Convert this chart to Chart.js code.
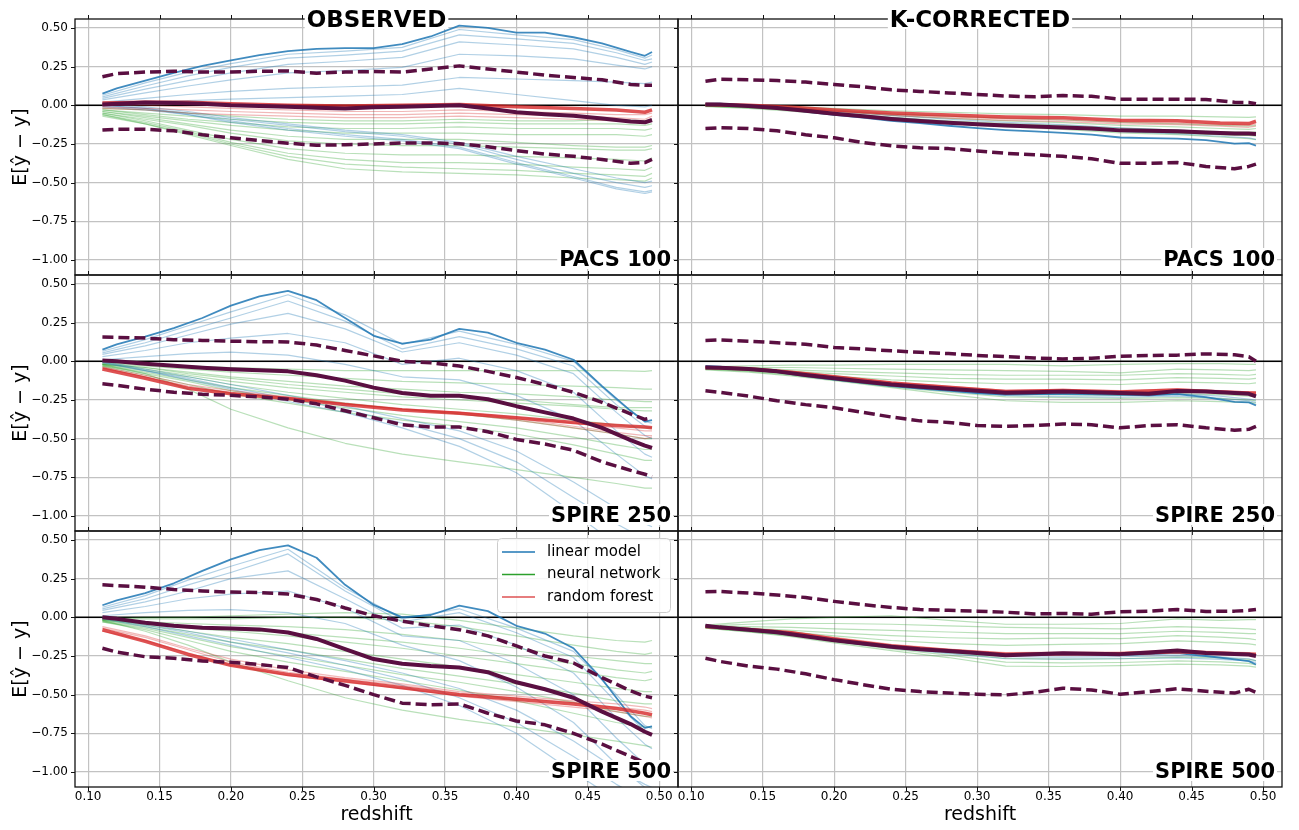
<!DOCTYPE html>
<html>
<head>
<meta charset="utf-8">
<script src="https://cdn.jsdelivr.net/npm/chart.js@4.4.1/dist/chart.umd.min.js"></script>
<style>
  html, body { margin: 0; padding: 0; background: #fff; }
  #fig { position: relative; width: 1299px; height: 830px; overflow: hidden; background: #fff; }
  #fig canvas { position: absolute; }
</style>
</head>
<body>
<div id="fig"></div>
<script>
// redshift grids: fine grid for the bold curves, coarse grid for the thin ones
const zFine = [0.11, 0.12, 0.14, 0.16, 0.18, 0.20, 0.22, 0.24, 0.26, 0.28, 0.30, 0.32, 0.34, 0.36, 0.38, 0.40, 0.42, 0.44, 0.46, 0.48, 0.49, 0.495];
const zCoarse = [0.11, 0.14, 0.17, 0.20, 0.24, 0.28, 0.32, 0.36, 0.40, 0.44, 0.47, 0.49, 0.495];

const xTicks = [0.10, 0.15, 0.20, 0.25, 0.30, 0.35, 0.40, 0.45, 0.50];
const yTicks = [0.50, 0.25, 0.00, -0.25, -0.50, -0.75, -1.00];

const colTitles = ['OBSERVED', 'K-CORRECTED'];
const rowLabels = ['PACS 100', 'SPIRE 250', 'SPIRE 500'];
const legendNames = ['linear model', 'neural network', 'random forest'];

// ---------- PACS 100, observed ----------
const obsPacsLin = [0.075, 0.11, 0.16, 0.21, 0.255, 0.29, 0.325, 0.35, 0.365, 0.37, 0.37, 0.395, 0.445, 0.515, 0.50, 0.47, 0.47, 0.44, 0.40, 0.345, 0.32, 0.345];
const obsPacsMean = [0.005, 0.01, 0.018, 0.015, 0.01, 0.0, -0.005, -0.01, -0.015, -0.02, -0.012, -0.01, -0.005, 0.0, -0.02, -0.045, -0.058, -0.068, -0.085, -0.105, -0.11, -0.095];
const obsPacsUp = [0.185, 0.205, 0.215, 0.22, 0.215, 0.215, 0.22, 0.222, 0.208, 0.215, 0.218, 0.215, 0.235, 0.255, 0.235, 0.215, 0.195, 0.18, 0.165, 0.135, 0.13, 0.13];
const obsPacsLo = [-0.16, -0.155, -0.155, -0.165, -0.19, -0.21, -0.228, -0.245, -0.258, -0.255, -0.25, -0.243, -0.243, -0.248, -0.268, -0.293, -0.315, -0.33, -0.35, -0.375, -0.37, -0.35];
const obsPacsRf = [0.015, 0.02, 0.02, 0.01, 0.0, -0.005, 0.0, 0.005, -0.01, -0.02, -0.03, -0.045, -0.03];
const obsPacsLinThin = [
  [0.065, 0.145, 0.215, 0.27, 0.33, 0.35, 0.375, 0.49, 0.455, 0.425, 0.36, 0.305, 0.325],
  [0.055, 0.125, 0.19, 0.245, 0.305, 0.325, 0.35, 0.455, 0.43, 0.40, 0.34, 0.29, 0.30],
  [0.045, 0.105, 0.16, 0.21, 0.265, 0.285, 0.31, 0.41, 0.39, 0.365, 0.31, 0.265, 0.28],
  [0.035, 0.08, 0.125, 0.165, 0.21, 0.225, 0.245, 0.33, 0.32, 0.30, 0.26, 0.235, 0.25],
  [0.02, 0.045, 0.07, 0.09, 0.11, 0.12, 0.13, 0.18, 0.17, 0.16, 0.15, 0.14, 0.15],
  [0.01, 0.02, 0.03, 0.04, 0.05, 0.06, 0.07, 0.11, 0.07, 0.03, 0.0, -0.01, 0.0],
  [0.01, -0.01, -0.04, -0.08, -0.12, -0.16, -0.19, -0.24, -0.33, -0.41, -0.47, -0.50, -0.49],
  [0.0, -0.02, -0.05, -0.09, -0.13, -0.17, -0.20, -0.25, -0.35, -0.44, -0.50, -0.53, -0.52],
  [0.0, -0.02, -0.06, -0.10, -0.15, -0.19, -0.22, -0.27, -0.37, -0.46, -0.53, -0.56, -0.55],
  [-0.01, -0.03, -0.06, -0.11, -0.16, -0.20, -0.23, -0.28, -0.38, -0.47, -0.54, -0.57, -0.56]
];
const obsPacsNnThin = [
  [-0.02, -0.03, -0.05, -0.07, -0.09, -0.10, -0.10, -0.09, -0.10, -0.10, -0.09, -0.10, -0.09],
  [-0.03, -0.05, -0.07, -0.09, -0.11, -0.12, -0.12, -0.11, -0.12, -0.12, -0.12, -0.13, -0.12],
  [-0.03, -0.06, -0.09, -0.11, -0.14, -0.15, -0.15, -0.14, -0.15, -0.15, -0.15, -0.16, -0.15],
  [-0.04, -0.07, -0.10, -0.13, -0.16, -0.18, -0.18, -0.18, -0.19, -0.19, -0.19, -0.20, -0.19],
  [-0.04, -0.08, -0.12, -0.16, -0.20, -0.22, -0.22, -0.22, -0.24, -0.26, -0.27, -0.27, -0.26],
  [-0.05, -0.09, -0.13, -0.18, -0.23, -0.25, -0.26, -0.26, -0.27, -0.28, -0.29, -0.29, -0.28],
  [-0.05, -0.10, -0.16, -0.22, -0.28, -0.31, -0.32, -0.32, -0.33, -0.34, -0.35, -0.36, -0.34],
  [-0.06, -0.11, -0.17, -0.24, -0.31, -0.35, -0.37, -0.37, -0.38, -0.40, -0.41, -0.42, -0.40],
  [-0.06, -0.12, -0.18, -0.25, -0.33, -0.38, -0.40, -0.41, -0.42, -0.44, -0.45, -0.46, -0.44],
  [-0.07, -0.12, -0.19, -0.26, -0.35, -0.41, -0.43, -0.44, -0.45, -0.47, -0.48, -0.49, -0.47]
];
const obsPacsRfThin = [
  [0.0, 0.0, -0.01, -0.02, -0.03, -0.04, -0.04, -0.03, -0.04, -0.05, -0.06, -0.06, -0.05],
  [-0.01, -0.02, -0.03, -0.04, -0.05, -0.06, -0.06, -0.05, -0.06, -0.07, -0.08, -0.09, -0.07],
  [-0.02, -0.03, -0.05, -0.06, -0.07, -0.08, -0.08, -0.07, -0.08, -0.09, -0.10, -0.11, -0.09]
];

// ---------- PACS 100, k-corrected ----------
const kcPacsLin = [0.01, 0.01, 0.0, -0.015, -0.04, -0.062, -0.08, -0.1, -0.115, -0.132, -0.148, -0.16, -0.168, -0.178, -0.19, -0.208, -0.212, -0.215, -0.225, -0.248, -0.245, -0.26];
const kcPacsMean = [0.005, 0.005, -0.005, -0.017, -0.035, -0.054, -0.07, -0.088, -0.102, -0.113, -0.123, -0.13, -0.137, -0.143, -0.15, -0.162, -0.165, -0.168, -0.175, -0.183, -0.183, -0.185];
const kcPacsUp = [0.155, 0.168, 0.165, 0.16, 0.15, 0.135, 0.12, 0.10, 0.09, 0.08, 0.07, 0.06, 0.055, 0.063, 0.058, 0.04, 0.04, 0.04, 0.038, 0.02, 0.018, 0.01];
const kcPacsLo = [-0.15, -0.145, -0.15, -0.165, -0.19, -0.21, -0.24, -0.262, -0.275, -0.28, -0.295, -0.31, -0.32, -0.33, -0.345, -0.375, -0.375, -0.37, -0.395, -0.41, -0.395, -0.38];
const kcPacsRf = [0.005, 0.0, -0.012, -0.03, -0.05, -0.062, -0.075, -0.08, -0.097, -0.1, -0.115, -0.118, -0.103];
const kcPacsLinThin = [
  [0.008, 0.0, -0.015, -0.035, -0.065, -0.09, -0.11, -0.125, -0.145, -0.16, -0.175, -0.185, -0.195],
  [0.005, -0.005, -0.02, -0.045, -0.078, -0.105, -0.13, -0.148, -0.17, -0.185, -0.2, -0.21, -0.22]
];
const kcPacsNnThin = [
  [0.005, 0.0, -0.008, -0.02, -0.035, -0.045, -0.055, -0.06, -0.07, -0.07, -0.075, -0.078, -0.075],
  [0.0, -0.005, -0.015, -0.03, -0.055, -0.07, -0.085, -0.095, -0.11, -0.12, -0.13, -0.135, -0.13],
  [0.0, -0.008, -0.02, -0.04, -0.065, -0.085, -0.1, -0.112, -0.13, -0.14, -0.15, -0.155, -0.15],
  [-0.003, -0.012, -0.027, -0.048, -0.078, -0.1, -0.118, -0.13, -0.148, -0.16, -0.17, -0.175, -0.172],
  [-0.005, -0.015, -0.03, -0.055, -0.085, -0.11, -0.13, -0.145, -0.165, -0.178, -0.19, -0.195, -0.2],
  [-0.008, -0.02, -0.037, -0.06, -0.09, -0.118, -0.14, -0.155, -0.178, -0.19, -0.205, -0.215, -0.222],
  [-0.005, -0.015, -0.032, -0.055, -0.085, -0.11, -0.132, -0.148, -0.168, -0.18, -0.19, -0.195, -0.195]
];
const kcPacsRfThin = [
  [0.0, -0.005, -0.018, -0.035, -0.058, -0.075, -0.088, -0.095, -0.11, -0.115, -0.125, -0.13, -0.12],
  [0.0, -0.008, -0.022, -0.04, -0.065, -0.083, -0.097, -0.105, -0.12, -0.125, -0.135, -0.142, -0.135]
];

// ---------- SPIRE 250, observed ----------
const obsS250Lin = [0.075, 0.11, 0.16, 0.215, 0.28, 0.36, 0.42, 0.455, 0.395, 0.28, 0.165, 0.115, 0.14, 0.21, 0.185, 0.12, 0.075, 0.01, -0.16, -0.32, -0.39, -0.38];
const obsS250Mean = [0.005, 0.0, -0.015, -0.028, -0.042, -0.052, -0.058, -0.065, -0.09, -0.125, -0.17, -0.205, -0.222, -0.222, -0.245, -0.29, -0.33, -0.37, -0.43, -0.51, -0.545, -0.56];
const obsS250Up = [0.157, 0.155, 0.15, 0.14, 0.135, 0.13, 0.127, 0.125, 0.105, 0.07, 0.035, 0.0, -0.01, -0.03, -0.065, -0.105, -0.15, -0.2, -0.265, -0.34, -0.375, -0.365];
const obsS250Lo = [-0.145, -0.155, -0.18, -0.2, -0.213, -0.22, -0.23, -0.245, -0.275, -0.32, -0.365, -0.41, -0.425, -0.425, -0.455, -0.505, -0.535, -0.575, -0.65, -0.705, -0.73, -0.745];
const obsS250Rf = [-0.05, -0.11, -0.175, -0.21, -0.24, -0.28, -0.315, -0.335, -0.365, -0.395, -0.415, -0.425, -0.43];
const obsS250LinThin = [
  [0.065, 0.14, 0.23, 0.32, 0.43, 0.30, 0.11, 0.195, 0.11, 0.0, -0.25, -0.39, -0.40],
  [0.055, 0.12, 0.20, 0.28, 0.39, 0.26, 0.08, 0.16, 0.08, -0.03, -0.28, -0.42, -0.43],
  [0.045, 0.10, 0.17, 0.24, 0.31, 0.21, 0.06, 0.12, 0.04, -0.08, -0.33, -0.48, -0.50],
  [0.03, 0.07, 0.12, 0.15, 0.18, 0.12, -0.02, 0.02, -0.06, -0.2, -0.45, -0.6, -0.62],
  [0.01, 0.03, 0.05, 0.06, 0.04, -0.02, -0.1, -0.12, -0.22, -0.38, -0.6, -0.74, -0.76],
  [0.0, -0.05, -0.10, -0.15, -0.22, -0.29, -0.37, -0.45, -0.58, -0.78, -0.95, -1.05, -1.07],
  [-0.005, -0.06, -0.11, -0.17, -0.24, -0.31, -0.40, -0.50, -0.65, -0.88, -1.05, -1.15, -1.17],
  [-0.01, -0.06, -0.12, -0.18, -0.26, -0.33, -0.43, -0.55, -0.72, -0.98, -1.18, -1.28, -1.3]
];
const obsS250NnThin = [
  [-0.01, -0.02, -0.03, -0.04, -0.05, -0.06, -0.06, -0.06, -0.06, -0.06, -0.06, -0.065, -0.06],
  [-0.015, -0.03, -0.05, -0.07, -0.09, -0.11, -0.13, -0.14, -0.15, -0.16, -0.17, -0.18, -0.18],
  [-0.02, -0.04, -0.07, -0.10, -0.13, -0.16, -0.18, -0.20, -0.21, -0.23, -0.25, -0.26, -0.26],
  [-0.02, -0.05, -0.09, -0.13, -0.17, -0.20, -0.23, -0.25, -0.27, -0.29, -0.31, -0.32, -0.32],
  [-0.025, -0.06, -0.10, -0.15, -0.20, -0.24, -0.28, -0.31, -0.34, -0.38, -0.41, -0.43, -0.43],
  [-0.03, -0.07, -0.12, -0.17, -0.22, -0.27, -0.31, -0.34, -0.38, -0.43, -0.47, -0.50, -0.50],
  [-0.03, -0.08, -0.13, -0.19, -0.25, -0.30, -0.35, -0.39, -0.43, -0.49, -0.54, -0.57, -0.57],
  [-0.035, -0.09, -0.15, -0.21, -0.27, -0.33, -0.38, -0.42, -0.47, -0.54, -0.60, -0.64, -0.64],
  [-0.02, -0.08, -0.18, -0.31, -0.43, -0.53, -0.60, -0.65, -0.70, -0.75, -0.79, -0.82, -0.82],
  [-0.02, -0.04, -0.08, -0.11, -0.15, -0.18, -0.21, -0.23, -0.25, -0.28, -0.30, -0.30, -0.30]
];
const obsS250RfThin = [
  [-0.04, -0.10, -0.16, -0.20, -0.235, -0.275, -0.31, -0.33, -0.36, -0.40, -0.43, -0.45, -0.45],
  [-0.035, -0.09, -0.15, -0.19, -0.23, -0.27, -0.305, -0.33, -0.37, -0.42, -0.46, -0.48, -0.48],
  [-0.045, -0.10, -0.165, -0.205, -0.24, -0.275, -0.31, -0.34, -0.38, -0.43, -0.47, -0.50, -0.49]
];

// ---------- SPIRE 250, k-corrected ----------
const kcS250Lin = [-0.03, -0.035, -0.05, -0.07, -0.095, -0.118, -0.14, -0.16, -0.177, -0.19, -0.205, -0.215, -0.212, -0.21, -0.212, -0.215, -0.22, -0.212, -0.232, -0.262, -0.265, -0.285];
const kcS250Mean = [-0.04, -0.042, -0.05, -0.065, -0.088, -0.11, -0.13, -0.15, -0.165, -0.178, -0.19, -0.203, -0.2, -0.195, -0.2, -0.205, -0.21, -0.192, -0.195, -0.205, -0.21, -0.226];
const kcS250Up = [0.135, 0.138, 0.13, 0.12, 0.11, 0.09, 0.08, 0.068, 0.058, 0.05, 0.038, 0.03, 0.022, 0.015, 0.02, 0.033, 0.037, 0.04, 0.048, 0.042, 0.03, 0.0];
const kcS250Lo = [-0.19, -0.2, -0.225, -0.255, -0.28, -0.30, -0.33, -0.36, -0.385, -0.395, -0.415, -0.42, -0.415, -0.405, -0.41, -0.43, -0.415, -0.41, -0.43, -0.445, -0.44, -0.42];
const kcS250Rf = [-0.04, -0.048, -0.07, -0.1, -0.14, -0.168, -0.195, -0.188, -0.198, -0.185, -0.198, -0.205, -0.205];
const kcS250LinThin = [
  [-0.035, -0.05, -0.075, -0.105, -0.15, -0.185, -0.21, -0.215, -0.22, -0.21, -0.225, -0.245, -0.25],
  [-0.04, -0.055, -0.08, -0.11, -0.158, -0.195, -0.222, -0.228, -0.232, -0.225, -0.24, -0.255, -0.265]
];
const kcS250NnThin = [
  [-0.035, -0.03, -0.025, -0.025, -0.02, -0.02, -0.02, -0.03, -0.02, -0.015, -0.015, -0.02, -0.02],
  [-0.04, -0.04, -0.04, -0.045, -0.05, -0.055, -0.06, -0.065, -0.075, -0.05, -0.055, -0.06, -0.055],
  [-0.04, -0.045, -0.055, -0.065, -0.075, -0.085, -0.09, -0.09, -0.09, -0.08, -0.085, -0.09, -0.085],
  [-0.04, -0.05, -0.065, -0.08, -0.095, -0.11, -0.115, -0.115, -0.12, -0.105, -0.11, -0.115, -0.11],
  [-0.045, -0.055, -0.075, -0.095, -0.12, -0.135, -0.145, -0.145, -0.15, -0.135, -0.14, -0.145, -0.14],
  [-0.05, -0.06, -0.085, -0.115, -0.155, -0.19, -0.215, -0.215, -0.22, -0.21, -0.215, -0.225, -0.23],
  [-0.05, -0.065, -0.09, -0.12, -0.165, -0.2, -0.23, -0.235, -0.24, -0.235, -0.24, -0.25, -0.255],
  [-0.055, -0.07, -0.095, -0.125, -0.17, -0.215, -0.255, -0.265, -0.265, -0.255, -0.26, -0.265, -0.27]
];
const kcS250RfThin = [
  [-0.035, -0.045, -0.065, -0.095, -0.135, -0.162, -0.188, -0.182, -0.19, -0.178, -0.19, -0.197, -0.2],
  [-0.04, -0.05, -0.072, -0.103, -0.143, -0.172, -0.2, -0.195, -0.203, -0.19, -0.203, -0.21, -0.212]
];

// ---------- SPIRE 500, observed ----------
const obsS500Lin = [0.078, 0.11, 0.157, 0.22, 0.30, 0.375, 0.435, 0.465, 0.385, 0.21, 0.08, 0.0, 0.015, 0.075, 0.04, -0.055, -0.105, -0.20, -0.40, -0.64, -0.715, -0.705];
const obsS500Mean = [0.0, -0.01, -0.035, -0.055, -0.067, -0.072, -0.078, -0.098, -0.14, -0.205, -0.27, -0.30, -0.315, -0.325, -0.355, -0.42, -0.465, -0.52, -0.61, -0.69, -0.74, -0.76];
const obsS500Up = [0.21, 0.205, 0.195, 0.18, 0.17, 0.163, 0.16, 0.15, 0.115, 0.06, 0.01, -0.025, -0.055, -0.08, -0.12, -0.185, -0.25, -0.295, -0.39, -0.475, -0.51, -0.52];
const obsS500Lo = [-0.2, -0.225, -0.255, -0.265, -0.282, -0.29, -0.305, -0.325, -0.385, -0.44, -0.50, -0.555, -0.565, -0.56, -0.62, -0.67, -0.695, -0.75, -0.82, -0.9, -0.94, -0.955];
const obsS500Rf = [-0.08, -0.155, -0.24, -0.31, -0.37, -0.41, -0.455, -0.50, -0.53, -0.56, -0.59, -0.62, -0.63];
const obsS500LinThin = [
  [0.065, 0.14, 0.24, 0.33, 0.44, 0.19, -0.01, 0.055, -0.07, -0.22, -0.50, -0.70, -0.72],
  [0.055, 0.12, 0.21, 0.29, 0.41, 0.17, -0.03, 0.03, -0.10, -0.26, -0.55, -0.74, -0.76],
  [0.045, 0.10, 0.17, 0.25, 0.30, 0.12, -0.07, -0.05, -0.18, -0.36, -0.65, -0.82, -0.85],
  [0.03, 0.07, 0.12, 0.15, 0.17, 0.06, -0.12, -0.15, -0.30, -0.50, -0.78, -0.95, -0.98],
  [0.01, 0.03, 0.045, 0.05, 0.03, -0.04, -0.18, -0.28, -0.45, -0.68, -0.95, -1.10, -1.12],
  [0.0, -0.04, -0.09, -0.14, -0.21, -0.28, -0.36, -0.46, -0.60, -0.80, -0.98, -1.08, -1.10],
  [-0.005, -0.05, -0.10, -0.16, -0.23, -0.31, -0.40, -0.52, -0.68, -0.90, -1.08, -1.18, -1.2],
  [-0.01, -0.06, -0.12, -0.18, -0.26, -0.34, -0.44, -0.57, -0.75, -1.0, -1.18, -1.28, -1.3]
];
const obsS500NnThin = [
  [-0.01, 0.0, 0.0, 0.01, 0.02, 0.03, 0.02, -0.02, -0.07, -0.12, -0.15, -0.16, -0.15],
  [-0.01, -0.01, -0.01, -0.01, 0.0, 0.0, -0.02, -0.06, -0.12, -0.18, -0.22, -0.24, -0.23],
  [-0.015, -0.03, -0.04, -0.05, -0.06, -0.08, -0.11, -0.15, -0.20, -0.25, -0.28, -0.30, -0.30],
  [-0.02, -0.04, -0.07, -0.09, -0.12, -0.16, -0.20, -0.25, -0.30, -0.35, -0.39, -0.41, -0.40],
  [-0.02, -0.05, -0.09, -0.13, -0.17, -0.22, -0.27, -0.32, -0.37, -0.42, -0.46, -0.48, -0.48],
  [-0.025, -0.06, -0.11, -0.16, -0.21, -0.27, -0.33, -0.38, -0.43, -0.49, -0.54, -0.56, -0.56],
  [-0.03, -0.07, -0.13, -0.19, -0.25, -0.31, -0.37, -0.42, -0.48, -0.55, -0.61, -0.64, -0.64],
  [-0.03, -0.08, -0.15, -0.22, -0.29, -0.35, -0.41, -0.47, -0.54, -0.62, -0.68, -0.71, -0.71],
  [-0.02, -0.09, -0.18, -0.29, -0.41, -0.52, -0.60, -0.66, -0.71, -0.76, -0.80, -0.83, -0.84],
  [-0.015, -0.04, -0.06, -0.08, -0.10, -0.13, -0.16, -0.20, -0.25, -0.30, -0.34, -0.36, -0.35]
];
const obsS500RfThin = [
  [-0.06, -0.12, -0.20, -0.27, -0.34, -0.39, -0.43, -0.48, -0.51, -0.54, -0.56, -0.58, -0.59],
  [-0.07, -0.13, -0.21, -0.29, -0.355, -0.40, -0.44, -0.49, -0.52, -0.55, -0.58, -0.60, -0.61],
  [-0.09, -0.15, -0.23, -0.31, -0.375, -0.42, -0.46, -0.51, -0.545, -0.58, -0.61, -0.64, -0.65]
];

// ---------- SPIRE 500, k-corrected ----------
const kcS500Lin = [-0.05, -0.062, -0.083, -0.1, -0.125, -0.152, -0.175, -0.195, -0.21, -0.222, -0.235, -0.247, -0.243, -0.238, -0.24, -0.245, -0.238, -0.232, -0.25, -0.272, -0.283, -0.305];
const kcS500Mean = [-0.055, -0.065, -0.08, -0.097, -0.122, -0.149, -0.17, -0.19, -0.207, -0.218, -0.23, -0.245, -0.238, -0.233, -0.235, -0.238, -0.228, -0.215, -0.23, -0.237, -0.24, -0.25];
const kcS500Up = [0.165, 0.167, 0.157, 0.145, 0.128, 0.103, 0.082, 0.064, 0.05, 0.045, 0.04, 0.033, 0.022, 0.025, 0.02, 0.036, 0.04, 0.05, 0.038, 0.04, 0.045, 0.05];
const kcS500Lo = [-0.265, -0.285, -0.315, -0.335, -0.365, -0.403, -0.435, -0.465, -0.48, -0.49, -0.497, -0.502, -0.485, -0.458, -0.47, -0.497, -0.48, -0.462, -0.478, -0.49, -0.465, -0.485];
const kcS500Rf = [-0.06, -0.078, -0.1, -0.14, -0.185, -0.215, -0.238, -0.235, -0.235, -0.222, -0.233, -0.238, -0.24];
const kcS500LinThin = [
  [-0.06, -0.082, -0.11, -0.145, -0.19, -0.225, -0.255, -0.258, -0.255, -0.248, -0.258, -0.268, -0.282],
  [-0.065, -0.088, -0.115, -0.152, -0.2, -0.235, -0.268, -0.27, -0.268, -0.262, -0.272, -0.282, -0.292]
];
const kcS500NnThin = [
  [-0.05, -0.03, -0.01, 0.0, 0.01, -0.02, -0.045, -0.045, -0.04, -0.01, -0.02, -0.015, -0.015],
  [-0.055, -0.045, -0.04, -0.04, -0.045, -0.055, -0.065, -0.07, -0.075, -0.06, -0.068, -0.075, -0.08],
  [-0.055, -0.06, -0.065, -0.075, -0.085, -0.095, -0.105, -0.105, -0.105, -0.09, -0.098, -0.105, -0.105],
  [-0.06, -0.07, -0.085, -0.1, -0.118, -0.132, -0.14, -0.135, -0.138, -0.118, -0.128, -0.138, -0.145],
  [-0.06, -0.075, -0.095, -0.12, -0.15, -0.17, -0.182, -0.175, -0.17, -0.152, -0.162, -0.172, -0.178],
  [-0.065, -0.088, -0.115, -0.15, -0.195, -0.23, -0.265, -0.27, -0.268, -0.258, -0.262, -0.272, -0.28],
  [-0.07, -0.092, -0.12, -0.158, -0.205, -0.245, -0.29, -0.295, -0.292, -0.282, -0.288, -0.298, -0.308],
  [-0.07, -0.095, -0.125, -0.165, -0.215, -0.26, -0.315, -0.318, -0.312, -0.302, -0.308, -0.315, -0.322]
];
const kcS500RfThin = [
  [-0.055, -0.072, -0.093, -0.13, -0.175, -0.205, -0.228, -0.225, -0.225, -0.212, -0.223, -0.228, -0.23],
  [-0.06, -0.078, -0.1, -0.138, -0.183, -0.213, -0.238, -0.235, -0.235, -0.222, -0.233, -0.24, -0.242]
];

// colours
const LIN = '#1f77b4', NN = '#2ca02c', RF = '#d62728', MEAN = '#5a0f41';
const LIN_THIN = 'rgba(31,119,180,0.35)';
const NN_THIN = 'rgba(44,160,44,0.33)';
const RF_THIN = 'rgba(214,39,40,0.33)';
const GRID = '#c2c2c2';
const FONT = "'DejaVu Sans', sans-serif";

Chart.defaults.font.family = FONT;
Chart.defaults.color = '#000';

const X_MIN = 0.0908, X_MAX = 0.5132;
const Y_MIN = -1.097, Y_MAX = 0.558;

const panels = [
  { lin: obsPacsLin, mean: obsPacsMean, up: obsPacsUp, lo: obsPacsLo, rf: obsPacsRf, linThin: obsPacsLinThin, nnThin: obsPacsNnThin, rfThin: obsPacsRfThin },
  { lin: kcPacsLin, mean: kcPacsMean, up: kcPacsUp, lo: kcPacsLo, rf: kcPacsRf, linThin: kcPacsLinThin, nnThin: kcPacsNnThin, rfThin: kcPacsRfThin },
  { lin: obsS250Lin, mean: obsS250Mean, up: obsS250Up, lo: obsS250Lo, rf: obsS250Rf, linThin: obsS250LinThin, nnThin: obsS250NnThin, rfThin: obsS250RfThin },
  { lin: kcS250Lin, mean: kcS250Mean, up: kcS250Up, lo: kcS250Lo, rf: kcS250Rf, linThin: kcS250LinThin, nnThin: kcS250NnThin, rfThin: kcS250RfThin },
  { lin: obsS500Lin, mean: obsS500Mean, up: obsS500Up, lo: obsS500Lo, rf: obsS500Rf, linThin: obsS500LinThin, nnThin: obsS500NnThin, rfThin: obsS500RfThin },
  { lin: kcS500Lin, mean: kcS500Mean, up: kcS500Up, lo: kcS500Lo, rf: kcS500Rf, linThin: kcS500LinThin, nnThin: kcS500NnThin, rfThin: kcS500RfThin }
];

// canvas placement: rows and columns of the 3x2 grid
const rows = [
  { top: 0, h: 279, padTop: 19, xAxisH: 4, showX: false },
  { top: 271, h: 264, padTop: 4, xAxisH: 4, showX: false },
  { top: 527, h: 303, padTop: 4, xAxisH: 43, showX: true }
];
const cols = [
  { left: 0, w: 682, yAxisW: 75, padRight: 4, showY: true },
  { left: 670, w: 629, yAxisW: 8, padRight: 17, showY: false }
];

function line(z, vals, color, width, dash) {
  return {
    data: z.map((x, i) => ({ x: x, y: vals[i] })),
    borderColor: color,
    borderWidth: width,
    borderDash: dash || [],
    pointRadius: 0,
    fill: false
  };
}

function buildDatasets(p) {
  const sets = [];
  p.nnThin.forEach(v => sets.push(line(zCoarse, v, NN_THIN, 1.2)));
  p.linThin.forEach(v => sets.push(line(zCoarse, v, LIN_THIN, 1.2)));
  p.rfThin.forEach(v => sets.push(line(zCoarse, v, RF_THIN, 1.2)));
  sets.push(line(zFine, p.lin, 'rgba(31,119,180,0.85)', 1.8));
  sets.push(line(zCoarse, p.rf, 'rgba(214,39,40,0.8)', 3.5));
  sets.push(line(zFine, p.up, MEAN, 3.5, [11, 5]));
  sets.push(line(zFine, p.lo, MEAN, 3.5, [11, 5]));
  sets.push(line(zFine, p.mean, MEAN, 4));
  // chart.js paints dataset 0 last, so put the top layers first
  return sets.reverse();
}

const decor = {
  id: 'decor',
  beforeDatasetsDraw(chart) {
    const { ctx, chartArea: a, scales: { y } } = chart;
    const y0 = y.getPixelForValue(0);
    ctx.save();
    ctx.strokeStyle = '#000';
    ctx.lineWidth = 1.5;
    ctx.beginPath();
    ctx.moveTo(a.left, y0);
    ctx.lineTo(a.right, y0);
    ctx.stroke();
    ctx.restore();
  },
  afterDraw(chart, args, o) {
    const { ctx, chartArea: a, scales: { x, y } } = chart;
    ctx.save();
    // spines
    ctx.strokeStyle = '#111';
    ctx.lineWidth = 1.3;
    ctx.strokeRect(a.left, a.top, a.right - a.left, a.bottom - a.top);
    // outward tick marks
    ctx.lineWidth = 1;
    ctx.beginPath();
    xTicks.forEach(v => {
      const px = Math.round(x.getPixelForValue(v)) + 0.5;
      ctx.moveTo(px, a.top); ctx.lineTo(px, a.top - 4);
      ctx.moveTo(px, a.bottom); ctx.lineTo(px, a.bottom + 4);
    });
    yTicks.forEach(v => {
      const py = Math.round(y.getPixelForValue(v)) + 0.5;
      ctx.moveTo(a.left, py); ctx.lineTo(a.left - 4, py);
    });
    ctx.stroke();

    // panel label, bottom right, on a white box
    ctx.font = 'bold 21px ' + FONT;
    ctx.textAlign = 'right';
    ctx.textBaseline = 'alphabetic';
    const lx = a.right - 7, ly = a.bottom - 9;
    const lw = ctx.measureText(o.label).width;
    ctx.fillStyle = '#fff';
    ctx.fillRect(lx - lw - 2, ly - 18, lw + 4, 21);
    ctx.fillStyle = '#000';
    ctx.fillText(o.label, lx, ly);

    // column title over the top spine
    if (o.title) {
      ctx.font = 'bold 23px ' + FONT;
      ctx.textAlign = 'center';
      const cx = (a.left + a.right) / 2;
      const tw = ctx.measureText(o.title).width;
      ctx.fillStyle = '#fff';
      ctx.fillRect(cx - tw / 2 - 2, a.top - 11, tw + 4, 21);
      ctx.fillStyle = '#000';
      ctx.fillText(o.title, cx, a.top + 8);
    }

    // legend box
    if (o.legend) {
      const bx = a.right - 181, by = a.top + 7, bw = 173, bh = 74;
      ctx.fillStyle = 'rgba(255,255,255,0.85)';
      ctx.strokeStyle = '#cccccc';
      ctx.lineWidth = 1;
      ctx.beginPath();
      ctx.roundRect(bx + 0.5, by + 0.5, bw, bh, 4);
      ctx.fill();
      ctx.stroke();
      const cs = [LIN, NN, 'rgba(214,39,40,0.8)'];
      ctx.font = '15px ' + FONT;
      ctx.textAlign = 'left';
      ctx.textBaseline = 'middle';
      legendNames.forEach((name, i) => {
        const ry = by + 14 + i * 22.5;
        ctx.strokeStyle = cs[i];
        ctx.lineWidth = 1.5;
        ctx.beginPath();
        ctx.moveTo(bx + 5, ry); ctx.lineTo(bx + 38, ry);
        ctx.stroke();
        ctx.fillStyle = '#000';
        ctx.fillText(name, bx + 50, ry);
      });
    }
    ctx.restore();
  }
};

const fig = document.getElementById('fig');

panels.forEach((p, k) => {
  const r = rows[Math.floor(k / 2)], c = cols[k % 2];
  const cv = document.createElement('canvas');
  cv.width = c.w; cv.height = r.h;
  cv.style.left = c.left + 'px';
  cv.style.top = r.top + 'px';
  fig.appendChild(cv);

  new Chart(cv, {
    type: 'line',
    data: { datasets: buildDatasets(p) },
    options: {
      responsive: false,
      animation: false,
      events: [],
      layout: { padding: { top: r.padTop, right: c.padRight, left: 0, bottom: 0 } },
      elements: { line: { tension: 0, borderCapStyle: 'butt', borderJoinStyle: 'round' }, point: { radius: 0 } },
      plugins: {
        legend: { display: false },
        tooltip: { enabled: false },
        decor: {
          label: rowLabels[Math.floor(k / 2)],
          title: k < 2 ? colTitles[k] : null,
          legend: k === 4
        }
      },
      scales: {
        x: {
          type: 'linear',
          min: X_MIN, max: X_MAX,
          afterBuildTicks: s => { s.ticks = xTicks.map(v => ({ value: v })); },
          afterFit: s => { s.height = r.xAxisH; s.paddingLeft = 0; s.paddingRight = 0; },
          grid: { color: GRID, lineWidth: 1.2, drawTicks: false },
          border: { display: false },
          ticks: {
            display: r.showX, autoSkip: false, maxRotation: 0, padding: 3,
            font: { size: 12 }, color: '#000',
            callback: v => v.toFixed(2)
          },
          title: {
            display: r.showX, text: 'redshift', color: '#000',
            font: { size: 19 }, padding: { top: 0, bottom: 4 }
          }
        },
        y: {
          min: Y_MIN, max: Y_MAX,
          afterBuildTicks: s => { s.ticks = yTicks.map(v => ({ value: v })); },
          afterFit: s => { s.width = c.yAxisW; s.paddingTop = 0; s.paddingBottom = 0; },
          grid: { color: GRID, lineWidth: 1.2, drawTicks: false },
          border: { display: false },
          ticks: {
            display: c.showY, padding: 7, autoSkip: false,
            font: { size: 12 }, color: '#000',
            callback: v => (v < 0 ? '\u2212' + (-v).toFixed(2) : v.toFixed(2))
          },
          title: {
            display: c.showY, text: 'E[\u0177 \u2212 y]', color: '#000',
            font: { size: 19 }, padding: { top: 10, bottom: 0 }
          }
        }
      }
    },
    plugins: [decor]
  });
});
</script>
</body>
</html>
